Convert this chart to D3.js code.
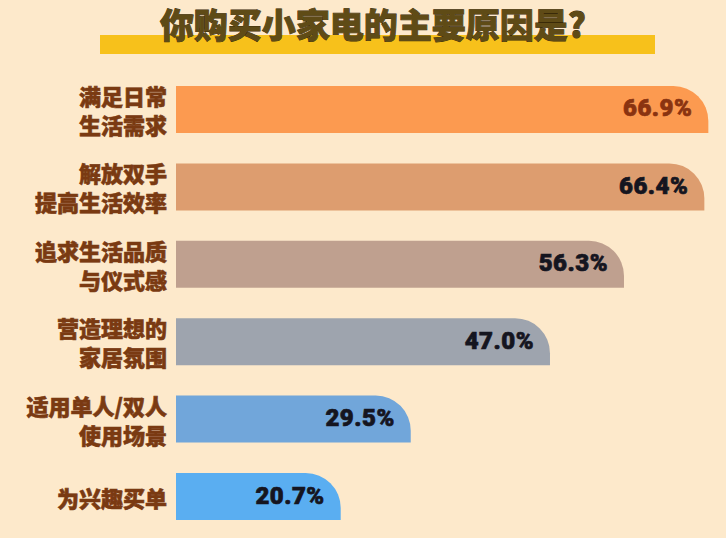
<!DOCTYPE html>
<html>
<head>
<meta charset="utf-8">
<script src="https://cdn.jsdelivr.net/npm/d3@7"></script>
<style>
  html, body { margin: 0; padding: 0; background: #fde9cb; }
  svg { display: block; }
</style>
</head>
<body>
<div id="chart"></div>
<script>
const title = '你购买小家电的主要原因是?'
const categories = ['满足日常生活需求', '解放双手提高生活效率', '追求生活品质与仪式感', '营造理想的家居氛围', '适用单人/双人使用场景', '为兴趣买单']
const labelLines = [
    ['满足日常', '生活需求'],
    ['解放双手', '提高生活效率'],
    ['追求生活品质', '与仪式感'],
    ['营造理想的', '家居氛围'],
    ['适用单人/双人', '使用场景'],
    ['为兴趣买单']
]
const values = [66.9, 66.4, 56.3, 47.0, 29.5, 20.7]
const barColors = ['#fc9a50', '#dd9d6f', '#bfa08f', '#9ea4ae', '#71a6da', '#5aaef1']
const valueColors = ['#8a3310', '#15151f', '#15151f', '#15151f', '#15151f', '#15151f']

function init() {
    const width = 726
    const height = 538
    const cjk = '"Noto Sans CJK SC", "Noto Sans", sans-serif'

    const svg = d3.select('#chart')
        .append('svg')
        .attr('width', width)
        .attr('height', height)

    svg.append('rect')
        .attr('width', width)
        .attr('height', height)
        .attr('fill', '#fde9cb')

    // yellow band behind the title
    svg.append('rect')
        .attr('x', 100)
        .attr('y', 35)
        .attr('width', 555)
        .attr('height', 19)
        .attr('fill', '#f7c11b')

    svg.append('text')
        .attr('x', 373)
        .attr('y', 23)
        .attr('text-anchor', 'middle')
        .attr('dominant-baseline', 'central')
        .style('font-family', cjk)
        .style('font-weight', 900)
        .style('font-size', '34px')
        .style('fill', '#5f4b16')
        .style('paint-order', 'stroke')
        .style('stroke', '#3a2a08')
        .style('stroke-width', '0.8px')
        .text(title)

    const x = d3.scaleLinear()
        .domain([0, 70])
        .range([176, 733])

    const y = d3.scaleBand()
        .domain(categories)
        .range([86, 520])
        .paddingInner(0.393)
        .paddingOuter(0)
        .align(0)

    const radius = 35

    function barPath(d, i) {
        const x0 = x(0)
        const x1 = x(values[i])
        const y0 = y(d)
        const y1 = y0 + y.bandwidth()
        const r = Math.min(radius, x1 - x0, y.bandwidth())
        const p = d3.path()
        p.moveTo(x0, y0)
        p.lineTo(x1 - r, y0)
        p.arcTo(x1, y0, x1, y0 + r, r)
        p.lineTo(x1, y1)
        p.lineTo(x0, y1)
        p.closePath()
        return p.toString()
    }

    svg.selectAll('path.bar')
        .data(categories)
        .enter()
        .append('path')
        .attr('class', 'bar')
        .attr('d', barPath)
        .attr('fill', (d, i) => barColors[i])

    svg.selectAll('text.value')
        .data(categories)
        .enter()
        .append('text')
        .attr('class', 'value')
        .attr('x', (d, i) => x(values[i]) - 16)
        .attr('y', d => y(d) + y.bandwidth() / 2 - 1)
        .attr('text-anchor', 'end')
        .attr('dominant-baseline', 'central')
        .style('font-family', 'Roboto, "DejaVu Sans", sans-serif')
        .style('font-weight', 900)
        .style('font-size', '24px')
        .style('letter-spacing', '0.5px')
        .style('fill', (d, i) => valueColors[i])
        .style('stroke', (d, i) => valueColors[i])
        .style('stroke-width', '0.7px')
        .text((d, i) => values[i].toFixed(1) + '%')

    const labels = svg.selectAll('text.cat')
        .data(categories)
        .enter()
        .append('text')
        .attr('class', 'cat')
        .attr('text-anchor', 'end')
        .style('font-family', cjk)
        .style('font-weight', 900)
        .style('font-size', '22px')
        .style('fill', '#7a3a12')
        .style('stroke', '#7a3a12')
        .style('stroke-width', '0.6px')

    labels.each(function(d, i) {
        const lines = labelLines[i]
        const cy = y(d) + y.bandwidth() / 2
        const lh = 29
        const top = cy - (lines.length - 1) * lh / 2
        d3.select(this).selectAll('tspan')
            .data(lines)
            .enter()
            .append('tspan')
            .attr('x', 167)
            .attr('y', (l, j) => top + j * lh)
            .attr('dominant-baseline', 'central')
            .text(l => l)
    })
}

init()
</script>
</body>
</html>
